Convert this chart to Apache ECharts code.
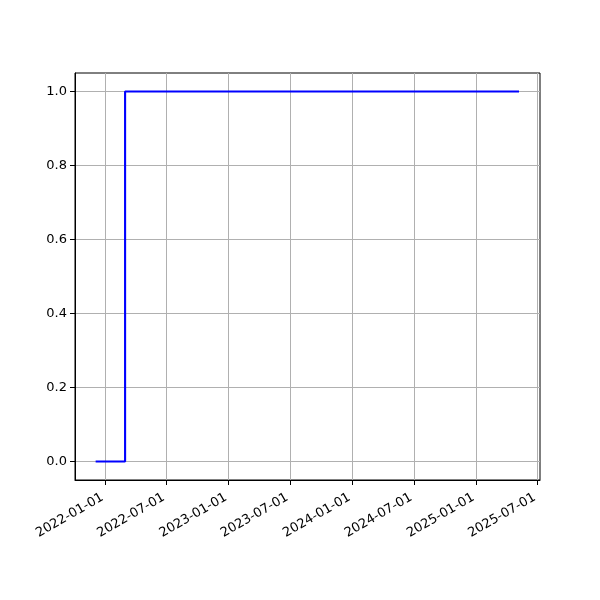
<!DOCTYPE html>
<html>
<head>
<meta charset="utf-8">
<script src="https://cdn.jsdelivr.net/npm/echarts@6/dist/echarts.min.js"></script>
<style>html,body{margin:0;padding:0;background:#fff;}#c{width:600px;height:600px;}</style>
</head>
<body>
<div id="c"></div>
<script>
const dates = ['2021-12-04', '2022-03-01', '2025-05-08'];
const values = [0, 1, 1];
const xTicks = ['2022-01-01','2022-07-01','2023-01-01','2023-07-01','2024-01-01','2024-07-01','2025-01-01','2025-07-01'];
const yTicks = [0, 0.2, 0.4, 0.6, 0.8, 1.0];

const chart = echarts.init(document.getElementById('c'), null, {renderer: 'canvas'});
const ts = s => new Date(s + 'T00:00:00Z').getTime();
const xMin = ts('2021-10-04'), xMax = ts('2025-07-09');
const font = 'DejaVu Sans';
chart.setOption({
  animation: false,
  backgroundColor: '#fff',
  grid: {left: 75, right: 60, top: 73, bottom: 120, show: true, borderColor: '#000', borderWidth: 1, containLabel: false},
  xAxis: {
    type: 'value', min: xMin, max: xMax, scale: true,
    axisLine: {show: true, onZero: false, lineStyle: {color: '#000'}},
    axisTick: {show: true, length: 5, lineStyle: {color: '#000'}, customValues: xTicks.map(ts)},
    axisLabel: {
      customValues: xTicks.map(ts), rotate: 30, color: '#000', fontFamily: font, fontSize: 13, margin: 15,
      padding: [0, 3, 0, 0],
      formatter: v => { const d = new Date(v); const p = n => String(n).padStart(2,'0'); return d.getUTCFullYear() + '-' + p(d.getUTCMonth()+1) + '-' + p(d.getUTCDate()); }
    },
    splitLine: {show: true, lineStyle: {color: '#b0b0b0', width: 1}}
  },
  yAxis: {
    type: 'value', min: -0.05, max: 1.05,
    axisLine: {show: true, onZero: false, lineStyle: {color: '#000'}},
    axisTick: {show: true, length: 5, lineStyle: {color: '#000'}, customValues: yTicks},
    axisLabel: {customValues: yTicks, color: '#000', fontFamily: font, fontSize: 13, margin: 8, formatter: v => v.toFixed(1)},
    splitLine: {show: true, lineStyle: {color: '#b0b0b0', width: 1}}
  },
  series: [{
    type: 'line', step: 'end', showSymbol: false, symbol: 'none',
    data: dates.map((d, i) => [ts(d), values[i]]),
    lineStyle: {color: '#0000ff', width: 2.1}
  }]
});
</script>
</body>
</html>
